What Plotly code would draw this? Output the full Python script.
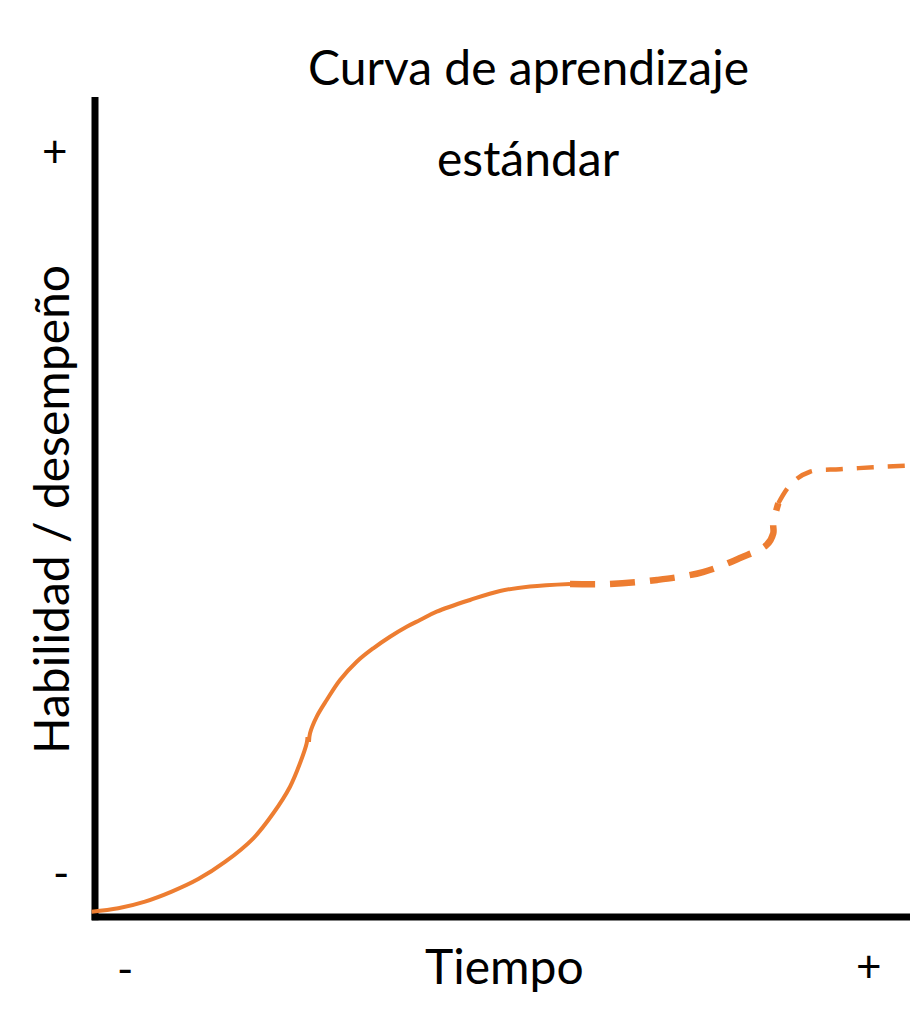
import plotly.graph_objects as go

# Curve (time 0-100, skill 0-100)
solid_low_x = [-0.40, 2.85, 6.12, 9.39, 12.64, 15.91, 19.38, 21.82, 23.87, 25.09, 25.91, 26.01]
solid_low_y = [0.65, 1.06, 1.87, 3.09, 4.62, 6.71, 9.60, 12.65, 15.89, 18.74, 21.18, 21.95]

solid_up_x = [26.19, 26.32, 27.14, 28.36, 29.99, 32.03, 34.06, 36.11, 38.15, 39.78, 41.82,
              45.90, 49.57, 53.24, 58.14]
solid_up_y = [21.34, 22.40, 24.43, 26.46, 28.90, 31.13, 32.77, 34.18, 35.40, 36.22, 37.23,
              38.66, 39.76, 40.30, 40.61]

dash_thick_x = [58.14, 63.04, 68.79, 74.42, 78.95, 82.21, 83.02, 83.02, 83.64]
dash_thick_y = [40.61, 40.61, 41.10, 42.07, 43.78, 45.37, 46.79, 48.01, 50.45]

dash_thin_x = [83.64, 85.27, 87.52, 91.19, 95.26, 99.14]
dash_thin_y = [50.45, 52.89, 54.30, 54.60, 54.84, 55.04]

title_lines = ["Curva de aprendizaje", "estándar"]
x_title = "Tiempo"
y_title = "Habilidad / desempeño"
low_label = "-"
high_label = "+"

ORANGE = "#ED7D31"
FONT = "Lato"

fig = go.Figure()
fig.add_trace(go.Scatter(x=solid_low_x, y=solid_low_y, mode="lines",
                         line=dict(color=ORANGE, width=4, shape="spline", smoothing=1.0),
                         hoverinfo="skip"))
fig.add_trace(go.Scatter(x=solid_up_x, y=solid_up_y, mode="lines",
                         line=dict(color=ORANGE, width=4, shape="spline", smoothing=1.0),
                         hoverinfo="skip"))
fig.add_trace(go.Scatter(x=dash_thick_x, y=dash_thick_y, mode="lines",
                         line=dict(color=ORANGE, width=6.5, shape="spline", smoothing=1.0,
                                   dash="25px,15px"),
                         hoverinfo="skip"))
fig.add_trace(go.Scatter(x=dash_thin_x, y=dash_thin_y, mode="lines",
                         line=dict(color=ORANGE, width=4.5, shape="spline", smoothing=1.0,
                                   dash="17px,14px"),
                         hoverinfo="skip"))

# axes as thick black lines
fig.add_shape(type="line", x0=0, x1=0, y0=-0.4, y1=100, line=dict(color="black", width=7), layer="below")
fig.add_shape(type="line", x0=-0.4, x1=100.0, y0=0, y1=0, line=dict(color="black", width=7), layer="below")

def ann(x, y, text, size=48, angle=0):
    fig.add_annotation(x=x, y=y, xref="paper", yref="paper", text=text, showarrow=False,
                       textangle=angle, xanchor="center", yanchor="middle",
                       font=dict(family=FONT, size=size, color="black"))

ann(0.5344, 1.0285, title_lines[0])
ann(0.5344, 0.9185, title_lines[1])
ann(0.5066, -0.0492, x_title)
ann(-0.0422, 0.4964, y_title, angle=-90)
ann(-0.0362, 0.928, high_label, size=44)
ann(-0.0290, 0.0624, low_label, size=44)
ann(0.0483, -0.0528, low_label, size=44)
ann(0.9457, -0.0492, high_label, size=44)

fig.update_layout(
    width=918, height=1024,
    margin=dict(l=77, r=12, t=82, b=108),
    paper_bgcolor="white", plot_bgcolor="white",
    showlegend=False,
    xaxis=dict(range=[-1.224, 100.245], visible=False, fixedrange=True),
    yaxis=dict(range=[-0.854, 100.854], visible=False, fixedrange=True),
)

fig.write_html("out.html")
